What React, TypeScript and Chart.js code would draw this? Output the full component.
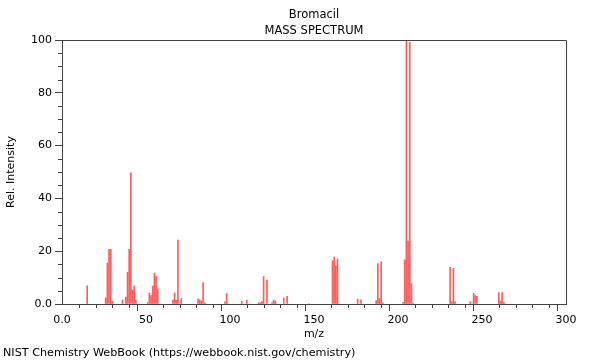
import React, { useEffect, useRef } from "react";
import { Chart, registerables } from "chart.js";

Chart.register(...registerables);

const TITLE = "Bromacil";
const SUBTITLE = "MASS SPECTRUM";
const FOOTER = "NIST Chemistry WebBook (https://webbook.nist.gov/chemistry)";
const X_LABEL = "m/z";
const Y_LABEL = "Rel. Intensity";

const mz = [
  15, 26, 27, 28, 29, 30, 36, 38, 39, 40, 41, 42, 43, 44, 51, 52, 53, 54, 55, 56, 57,
  66, 67, 68, 69, 71, 81, 82, 83, 84, 85, 97, 98, 107, 110, 117, 118, 119, 120, 122,
  125, 126, 127, 132, 134, 147, 161, 162, 163, 164, 176, 178, 187, 188, 189, 190, 191,
  203, 204, 205, 206, 207, 208, 209, 231, 232, 233, 234, 243, 245, 246, 247,
  260, 261, 262, 263,
];
const intensity = [
  6.9, 2.3, 15.5, 20.7, 20.7, 1.0, 1.5, 2.6, 12.0, 20.7, 49.7, 5.3, 6.8, 1.5, 0.5, 4.2, 3.2, 6.8, 11.7, 10.5, 5.8,
  1.5, 4.2, 1.5, 24.2, 2.1, 2.0, 1.5, 1.1, 8.1, 0.4, 0.8, 3.9, 1.0, 1.5, 0.5, 0.5, 0.9, 10.4, 9.1,
  0.5, 1.5, 1.1, 2.3, 2.9, 0.2, 16.4, 17.8, 14.5, 17.0, 1.8, 1.6, 1.3, 15.3, 2.1, 16.0, 0.4,
  0.6, 16.7, 100, 23.8, 99.1, 7.8, 0.3, 13.9, 0.9, 13.5, 0.8, 0.9, 4.0, 3.2, 2.9,
  4.3, 1.1, 4.3, 0.6,
];

const X_MIN = 0;
const X_MAX = 300;
const X_MINOR_STEP = 10;
const X_MAJOR_STEP = 50;
const Y_MIN = 0;
const Y_MAX = 100;
const Y_MINOR_STEP = 5;
const Y_MAJOR_STEP = 20;

const AXIS_COLOR = "#444444";
const BAR_COLOR = "rgba(255, 30, 30, 0.72)";
const FONT_FAMILY = '"DejaVu Sans", sans-serif';

const fmt = (v: number) => (v === 0 ? "0.0" : String(v));

const decorPlugin = {
  id: "decor",
  afterDraw(chart: any) {
    const { ctx, chartArea: a, scales } = chart;
    ctx.save();
    // frame top & right
    ctx.strokeStyle = AXIS_COLOR;
    ctx.lineWidth = 1;
    ctx.beginPath();
    ctx.moveTo(a.left, a.top + 0.5);
    ctx.lineTo(a.right + 0.5, a.top + 0.5);
    ctx.lineTo(a.right + 0.5, a.bottom);
    ctx.stroke();
    // minor ticks
    ctx.beginPath();
    for (let v = Y_MIN; v <= Y_MAX; v += Y_MINOR_STEP) {
      if (v % Y_MAJOR_STEP === 0) continue;
      const py = Math.round(scales.y.getPixelForValue(v)) + 0.5;
      ctx.moveTo(a.left - 4, py);
      ctx.lineTo(a.left, py);
    }
    for (let v = X_MIN; v <= X_MAX; v += X_MINOR_STEP) {
      if (v % X_MAJOR_STEP === 0) continue;
      const px = Math.round(scales.x.getPixelForValue(v)) + 0.5;
      ctx.moveTo(px, a.bottom);
      ctx.lineTo(px, a.bottom + 4);
    }
    ctx.stroke();
    // titles
    ctx.fillStyle = "#000";
    ctx.font = `11.5px ${FONT_FAMILY}`;
    ctx.textAlign = "center";
    ctx.textBaseline = "middle";
    const cx = (a.left + a.right) / 2;
    ctx.fillText(TITLE, cx, 15);
    ctx.fillText(SUBTITLE, cx, 31);
    ctx.font = `11.2px ${FONT_FAMILY}`;
    ctx.textAlign = "left";
    ctx.fillText(FOOTER, 3, 353);
    ctx.restore();
  },
};

export default function App() {
  const ref = useRef<HTMLCanvasElement | null>(null);

  useEffect(() => {
    if (!ref.current) return;
    const chart = new Chart(ref.current, {
      type: "bar",
      data: {
        datasets: [
          {
            data: mz.map((m, i) => ({ x: m, y: intensity[i] })),
            backgroundColor: BAR_COLOR,
            borderWidth: 0,
            barThickness: 1,
          },
        ],
      },
      options: {
        animation: false,
        responsive: false,
        devicePixelRatio: 1,
        layout: { padding: { top: 40, right: 34, left: 0, bottom: 16 } },
        plugins: {
          legend: { display: false },
          tooltip: { enabled: false },
          title: { display: false },
        },
        scales: {
          x: {
            type: "linear",
            min: X_MIN,
            max: X_MAX,
            offset: false,
            afterFit: (s: any) => {
              s.height = 40;
            },
            grid: {
              drawOnChartArea: false,
              drawTicks: true,
              tickLength: 7,
              tickColor: (c: any) =>
                c.tick && c.tick.value % X_MAJOR_STEP === 0 ? AXIS_COLOR : "rgba(0,0,0,0)",
            },
            border: { display: true, color: AXIS_COLOR, width: 1 },
            ticks: {
              stepSize: X_MINOR_STEP,
              autoSkip: false,
              maxRotation: 0,
              padding: 3,
              color: "#000",
              font: { family: FONT_FAMILY, size: 11 },
              callback: (v: any) => (Number(v) % X_MAJOR_STEP === 0 ? fmt(Number(v)) : ""),
            },
            title: {
              display: true,
              text: X_LABEL,
              color: "#000",
              font: { family: FONT_FAMILY, size: 11 },
              padding: { top: 2, bottom: 3 },
            },
          },
          y: {
            type: "linear",
            min: Y_MIN,
            max: Y_MAX,
            afterFit: (s: any) => {
              s.width = 62;
            },
            grid: {
              drawOnChartArea: false,
              drawTicks: true,
              tickLength: 7,
              tickColor: (c: any) =>
                c.tick && c.tick.value % Y_MAJOR_STEP === 0 ? AXIS_COLOR : "rgba(0,0,0,0)",
            },
            border: { display: true, color: AXIS_COLOR, width: 1 },
            ticks: {
              stepSize: Y_MINOR_STEP,
              autoSkip: false,
              padding: 3,
              color: "#000",
              font: { family: FONT_FAMILY, size: 11 },
              callback: (v: any) => (Number(v) % Y_MAJOR_STEP === 0 ? fmt(Number(v)) : ""),
            },
            title: {
              display: true,
              text: Y_LABEL,
              color: "#000",
              font: { family: FONT_FAMILY, size: 11 },
              padding: { top: 5, bottom: 4 },
            },
          },
        },
      },
      plugins: [decorPlugin],
    } as any);
    return () => chart.destroy();
  }, []);

  return (
    <div style={{ position: "fixed", left: 0, top: 0, width: 600, height: 360, background: "#fff" }}>
      <canvas ref={ref} width={600} height={360} style={{ width: 600, height: 360 }} />
    </div>
  );
}
